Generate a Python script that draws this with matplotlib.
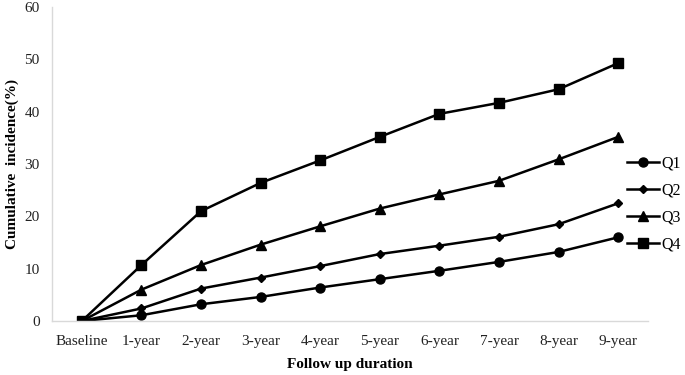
import numpy as np
import matplotlib
matplotlib.use("Agg")
import matplotlib.pyplot as plt

plt.rcParams['font.family'] = ['Liberation Serif', 'DejaVu Serif']

# follow up points
labels = ['Baseline', '1-year', '2-year', '3-year', '4-year', '5-year',
          '6-year', '7-year', '8-year', '9-year']

# cumulative incidence (%) by quartile
q1 = [0, 1.1, 3.2, 4.6, 6.4, 8.0, 9.6, 11.3, 13.2, 16.0]
q2 = [0, 2.4, 6.2, 8.3, 10.5, 12.8, 14.4, 16.1, 18.5, 22.5]
q3 = [0, 6.0, 10.7, 14.6, 18.1, 21.5, 24.2, 26.8, 30.9, 35.2]
q4 = [0, 10.7, 21.0, 26.4, 30.7, 35.2, 39.6, 41.7, 44.3, 49.3]

series = [('Q1', q1, 'o', 6.5), ('Q2', q2, 'D', 4.5),
          ('Q3', q3, '^', 7), ('Q4', q4, 's', 7)]

fig = plt.figure(figsize=(6.85, 3.75), dpi=100)
ax = fig.add_axes([0.076, 0.144, 0.87, 0.837])

x = np.arange(len(labels))
for name, vals, mk, ms in series:
    ax.plot(x, vals, color='black', lw=1.8, marker=mk, markersize=ms, label=name)

ax.set_xlim(-0.5, len(labels) - 0.5)
ax.set_ylim(0, 60)
ax.set_yticks(range(0, 61, 10))
ax.set_xticks(x)
ax.set_xticklabels(labels)
ax.tick_params(length=0, labelsize=11, colors='#222222')
ax.tick_params(axis='y', pad=9)
ax.tick_params(axis='x', pad=10)

for s in ['top', 'right']:
    ax.spines[s].set_visible(False)
for s in ['left', 'bottom']:
    ax.spines[s].set_color('#d9d9d9')
    ax.spines[s].set_linewidth(1.0)

ax.set_xlabel('Follow up duration', fontsize=11, fontweight='bold', labelpad=7)
ax.set_ylabel('Cumulative  incidence(%)', fontsize=11, fontweight='bold', labelpad=4)

fig.legend(loc='center left', bbox_to_anchor=(0.915, 0.456), frameon=False,
           fontsize=11.5, handlelength=2.0, handletextpad=0.15, labelspacing=0.68,
           borderpad=0, borderaxespad=0)

fig.savefig('out.png', dpi=100)
